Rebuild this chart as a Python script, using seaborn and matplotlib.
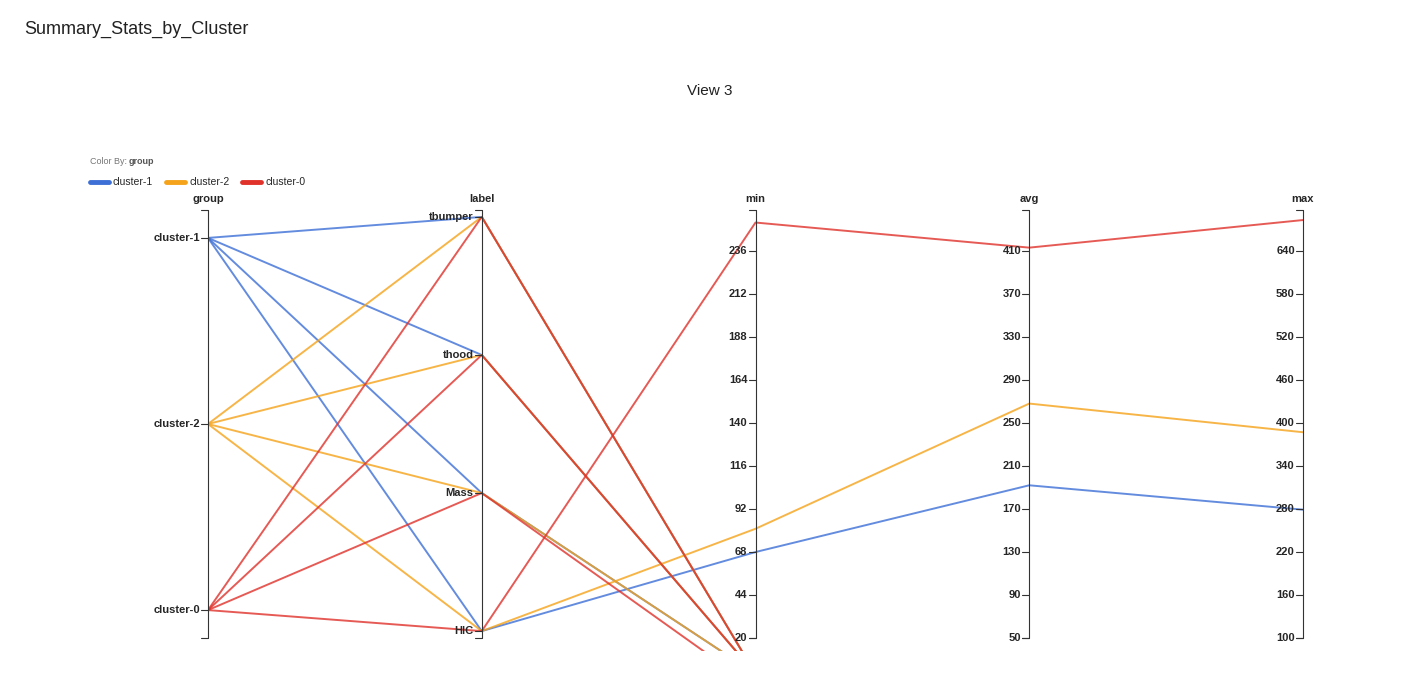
import matplotlib
matplotlib.use("Agg")
import matplotlib.pyplot as plt
import seaborn as sns
import pandas as pd
import numpy as np

groups = ["cluster-1", "cluster-2", "cluster-0"]
labels = ["tbumper", "thood", "Mass", "HIC"]
# rows: group, label, min, avg, max
row_group = ["cluster-1"]*4 + ["cluster-2"]*4 + ["cluster-0"]*4
row_label = labels * 3
row_min = [0, 0, 0, 68, 0, 0, 0, 81, 0, 0, -8, 252]
row_avg = [0, 0, 0, 192, 0, 0, 0, 268, 0, 0, 0, 413]
row_max = [0, 0, 0, 279, 0, 0, 0, 387, 0, 0, 0, 683]

dims = ["group", "label", "min", "avg", "max"]
min_ticks = list(range(20, 237, 24))
avg_ticks = list(range(50, 411, 40))
max_ticks = list(range(100, 641, 60))
ranges = {"min": (20, 259), "avg": (50, 448), "max": (100, 697)}
colors = {"cluster-1": "#3d6fd6", "cluster-2": "#f5a31a", "cluster-0": "#e0312a"}

def cat_pos(v, cats, pad=0.5):
    n = len(cats)
    step = 1.0 / (n - 1 + 2 * pad)
    return 1 - (pad + cats.index(v)) * step

def num_pos(v, d):
    lo, hi = ranges[d]
    return (v - lo) / (hi - lo)

recs = []
for i in range(len(row_group)):
    vals = {"group": cat_pos(row_group[i], groups, 0.15),
            "label": cat_pos(row_label[i], labels, 0.05),
            "min": num_pos(row_min[i], "min"),
            "avg": num_pos(row_avg[i], "avg"),
            "max": num_pos(row_max[i], "max")}
    for j, d in enumerate(dims):
        recs.append({"row": i, "x": j, "y": vals[d], "group": row_group[i]})
df = pd.DataFrame(recs)

sns.set_style("white")
plt.rcParams['font.family'] = ['Liberation Sans', 'DejaVu Sans']
fig = plt.figure(figsize=(14.07, 6.75), dpi=100)
W, H = 1407, 675
bot_px = 651
ax = fig.add_axes([208/W, (H-bot_px)/H, (1303-208)/W, (bot_px-210)/H])
sns.lineplot(data=df, x="x", y="y", hue="group", units="row", estimator=None,
             palette=colors, hue_order=groups, ax=ax, linewidth=1.4, alpha=0.8,
             legend=False, sort=False)
ax.set_xlim(0, 4)
ax.set_ylim(-13/428, 1)
for s in ax.spines.values():
    s.set_visible(False)
ax.set_xticks([]); ax.set_yticks([])
ax.set_xlabel(""); ax.set_ylabel("")

tk = 0.025
for j, d in enumerate(dims):
    ax.plot([j, j], [0, 1], color="#333", lw=0.8, clip_on=False)
    for yy in (0, 1):
        ax.plot([j - tk, j], [yy, yy], color="#333", lw=0.8, clip_on=False)
    ax.text(j, 1.015, d, ha="center", va="bottom", fontsize=8, fontweight="bold")
    if d == "group":
        tl = [(cat_pos(g, groups, 0.15), g) for g in groups]
    elif d == "label":
        tl = [(cat_pos(l, labels, 0.05), l) for l in labels]
    else:
        t = {"min": min_ticks, "avg": avg_ticks, "max": max_ticks}[d]
        tl = [(num_pos(v, d), str(v)) for v in t]
    for yy, s in tl:
        ax.plot([j - tk, j], [yy, yy], color="#333", lw=0.8, clip_on=False)
        ax.text(j - 0.03, yy, s, ha="right", va="center", fontsize=8, fontweight="bold")

fig.text(24/W, 1 - 29/H, "Summary_Stats_by_Cluster", fontsize=13, va="center", color="#222")
fig.text(710/W, 1 - 91/H, "View 3", fontsize=11, ha="center", va="center", color="#222")
fig.text(90/W, 1 - 161/H, "Color By: ", fontsize=6.5, color="#777", va="center")
fig.text(129/W, 1 - 161/H, "group", fontsize=6.5, color="#555", va="center", fontweight="bold")
lx = 90
for g in groups:
    fig.add_artist(plt.Line2D([lx/W, (lx+19)/W], [1-182/H]*2, color=colors[g], lw=3.5))
    fig.text((lx+23)/W, 1 - 182/H, g, fontsize=7.5, va="center")
    lx += 76 if g != "cluster-2" else 76
fig.savefig("out.png", dpi=100)
